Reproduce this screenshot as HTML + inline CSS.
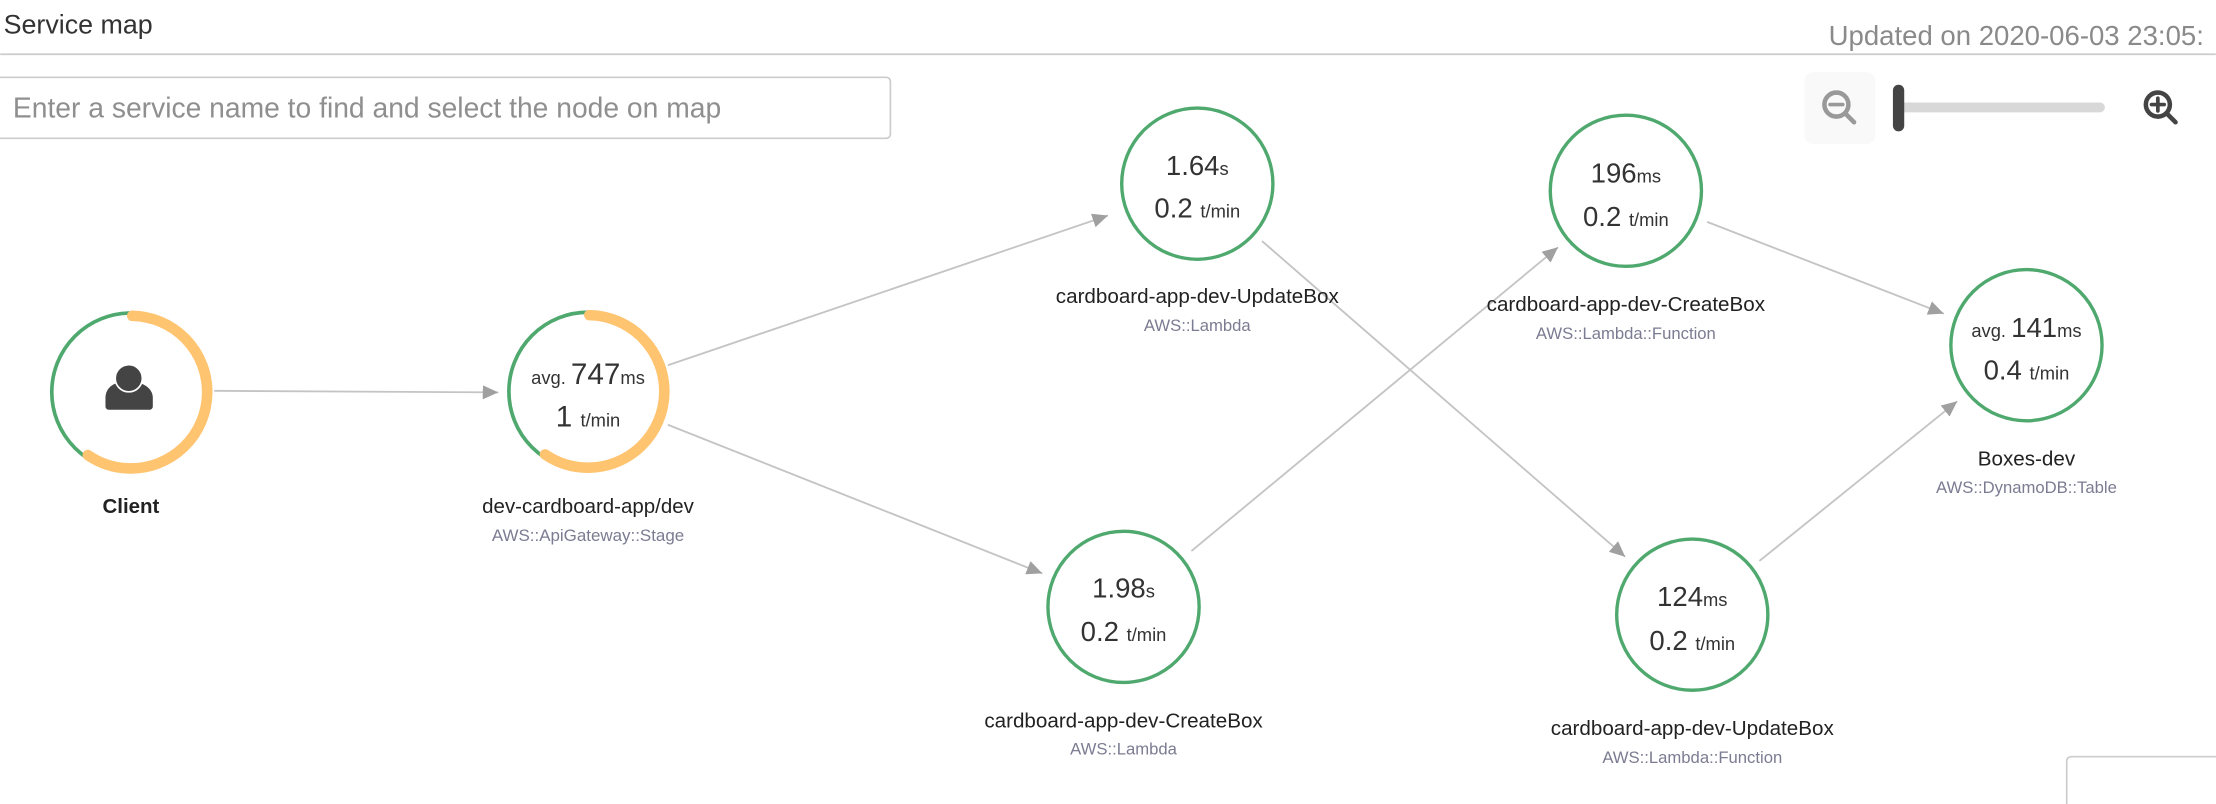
<!DOCTYPE html>
<html><head><meta charset="utf-8"><style>
html,body{margin:0;padding:0;background:#fff;}
svg{display:block;}
text{font-family:"Liberation Sans",Arial,sans-serif;}
</style></head><body>
<svg width="2216" height="804" viewBox="0 0 1568 569" xmlns="http://www.w3.org/2000/svg">
<defs>
<marker id="ah" markerUnits="userSpaceOnUse" markerWidth="12" markerHeight="10" refX="11" refY="5" orient="auto">
<path d="M0,0 L11,5 L0,10 z" fill="#a0a0a0"/>
</marker>
</defs>
<rect width="1568" height="569" fill="#fff"/>
<text x="2.4" y="23.6" font-size="19" fill="#333">Service map</text>
<line x1="0" y1="38.4" x2="1568" y2="38.4" stroke="#ccc" stroke-width="1.2"/>
<text x="1294" y="32" font-size="19.5" fill="#8a8a8a">Updated on 2020-06-03 23:05:</text>
<rect x="-3" y="54.7" width="633" height="43.2" rx="3" fill="#fff" stroke="#ccc" stroke-width="1.2"/>
<text x="9" y="83.3" font-size="20" fill="#8f8f8f">Enter a service name to find and select the node on map</text>

<!-- zoom controls -->
<rect x="1277" y="51" width="50" height="51" rx="6" fill="#f9f9f9"/>
<g stroke="#999" fill="none" stroke-width="3.2" stroke-linecap="round">
<circle cx="1299.5" cy="74" r="8.5"/>
<line x1="1295" y1="74" x2="1304" y2="74" stroke-width="2.6"/>
<line x1="1306" y1="80.5" x2="1312" y2="86.5"/>
</g>
<line x1="1345" y1="76" x2="1486" y2="76" stroke="#d8d8d8" stroke-width="7" stroke-linecap="round"/>
<rect x="1339.5" y="60" width="8" height="33" rx="4" fill="#444"/>
<g stroke="#444" fill="none" stroke-width="3.2" stroke-linecap="round">
<circle cx="1527" cy="74" r="8.5"/>
<line x1="1522.5" y1="74" x2="1531.5" y2="74" stroke-width="2.6"/>
<line x1="1527" y1="69.5" x2="1527" y2="78.5" stroke-width="2.6"/>
<line x1="1533.5" y1="80.5" x2="1539.5" y2="86.5"/>
</g>

<!-- edges -->
<g stroke="#c4c4c4" stroke-width="1.3" fill="none" marker-end="url(#ah)">
<line x1="151.5" y1="276.6" x2="352.5" y2="277.7"/>
<line x1="472.5" y1="258.5" x2="784" y2="152.5"/>
<line x1="472.5" y1="300.6" x2="737.5" y2="405.8"/>
<line x1="893" y1="170.6" x2="1150" y2="394"/>
<line x1="843" y1="390" x2="1102.5" y2="175"/>
<line x1="1208" y1="157" x2="1375.5" y2="222"/>
<line x1="1245" y1="397" x2="1385" y2="284"/>
</g>

<!-- Client -->
<g transform="translate(92.5,277.5)">
<circle r="56" fill="#fff" stroke="#4fa96e" stroke-width="2.6"/>
<circle r="54" fill="none" stroke="#ffc470" stroke-width="7.5" stroke-linecap="round" stroke-dasharray="201 400" transform="rotate(-89)"/>
<path d="M-18,10 L-18,4 C-18,-3 -12,-7 -6,-7 L2,-7 C8,-7 15.5,-3 15.5,4 L15.5,10 C15.5,11.5 14.5,12.5 13,12.5 L-15.5,12.5 C-17,12.5 -18,11.5 -18,10 z" fill="#444"/>
<circle cx="-1.5" cy="-9.8" r="9.6" fill="#444" stroke="#fff" stroke-width="1.2"/>
</g>
<text x="92.5" y="363" font-size="14.5" font-weight="bold" fill="#222" text-anchor="middle">Client</text>

<!-- API gateway -->
<g transform="translate(416,277)">
<circle r="56" fill="#fff" stroke="#4fa96e" stroke-width="2.6"/>
<circle r="54" fill="none" stroke="#ffc470" stroke-width="7.5" stroke-linecap="round" stroke-dasharray="201 400" transform="rotate(-89)"/>
</g>
<text x="416" y="271.7" text-anchor="middle" fill="#333"><tspan font-size="13">avg. </tspan><tspan font-size="21">747</tspan><tspan font-size="13">ms</tspan></text>
<text x="416" y="302" text-anchor="middle" fill="#333"><tspan font-size="21">1 </tspan><tspan font-size="13">t/min</tspan></text>
<text x="416" y="363" font-size="14.5" fill="#222" text-anchor="middle">dev-cardboard-app/dev</text>
<text x="416" y="383" font-size="12" fill="#7b7b92" text-anchor="middle">AWS::ApiGateway::Stage</text>

<!-- green nodes -->
<g fill="#fff" stroke="#4fa96e" stroke-width="2.4">
<circle cx="847.2" cy="130" r="53.5"/>
<circle cx="795" cy="429.5" r="53.5"/>
<circle cx="1150.5" cy="135" r="53.5"/>
<circle cx="1197.5" cy="435" r="53.5"/>
<circle cx="1434" cy="244.3" r="53.5"/>
</g>

<g fill="#333" text-anchor="middle">
<text x="847.2" y="123.8"><tspan font-size="19.5">1.64</tspan><tspan font-size="13">s</tspan></text>
<text x="847.2" y="154"><tspan font-size="19.5">0.2 </tspan><tspan font-size="13">t/min</tspan></text>
<text x="795" y="423"><tspan font-size="19.5">1.98</tspan><tspan font-size="13">s</tspan></text>
<text x="795" y="453.8"><tspan font-size="19.5">0.2 </tspan><tspan font-size="13">t/min</tspan></text>
<text x="1150.5" y="129"><tspan font-size="19.5">196</tspan><tspan font-size="13">ms</tspan></text>
<text x="1150.5" y="160"><tspan font-size="19.5">0.2 </tspan><tspan font-size="13">t/min</tspan></text>
<text x="1197.5" y="429"><tspan font-size="19.5">124</tspan><tspan font-size="13">ms</tspan></text>
<text x="1197.5" y="460"><tspan font-size="19.5">0.2 </tspan><tspan font-size="13">t/min</tspan></text>
<text x="1434" y="238.5"><tspan font-size="13">avg. </tspan><tspan font-size="19.5">141</tspan><tspan font-size="13">ms</tspan></text>
<text x="1434" y="268.6"><tspan font-size="19.5">0.4 </tspan><tspan font-size="13">t/min</tspan></text>
</g>

<g text-anchor="middle">
<text x="847.2" y="214.6" font-size="14.6" fill="#222">cardboard-app-dev-UpdateBox</text>
<text x="847.2" y="234.2" font-size="11.8" fill="#7b7b92">AWS::Lambda</text>
<text x="795" y="515" font-size="14.6" fill="#222">cardboard-app-dev-CreateBox</text>
<text x="795" y="534" font-size="11.8" fill="#7b7b92">AWS::Lambda</text>
<text x="1150.5" y="220" font-size="14.6" fill="#222">cardboard-app-dev-CreateBox</text>
<text x="1150.5" y="240" font-size="11.8" fill="#7b7b92">AWS::Lambda::Function</text>
<text x="1197.5" y="520" font-size="14.6" fill="#222">cardboard-app-dev-UpdateBox</text>
<text x="1197.5" y="540" font-size="11.8" fill="#7b7b92">AWS::Lambda::Function</text>
<text x="1434" y="329.6" font-size="14.6" fill="#222">Boxes-dev</text>
<text x="1434" y="349" font-size="11.8" fill="#7b7b92">AWS::DynamoDB::Table</text>
</g>

<path d="M1462.5,575 L1462.5,539 Q1462.5,535.5 1466,535.5 L1575,535.5" fill="none" stroke="#ccc" stroke-width="1.2"/>
</svg>
</body></html>
